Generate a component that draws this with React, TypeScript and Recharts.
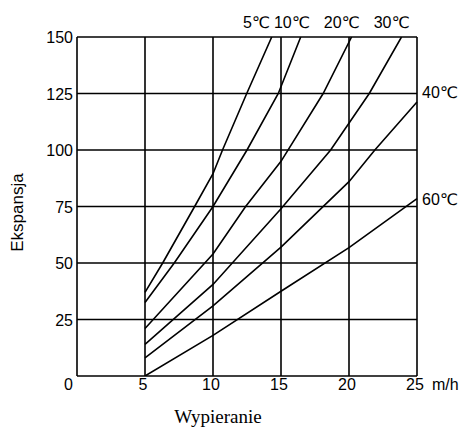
import { LineChart, Line, XAxis, YAxis, CartesianGrid, Label } from 'recharts';

const xTicks = [0, 5, 10, 15, 20, 25];
const yTicks = [0, 25, 50, 75, 100, 125, 150];

// (flow, expansion)
const t5 = [
  { x: 5, y: 37 }, { x: 6.3, y: 50 }, { x: 8.65, y: 75 }, { x: 10, y: 89.5 },
  { x: 10.7, y: 100 }, { x: 12.48, y: 125 }, { x: 14.32, y: 150 },
];
const t10 = [
  { x: 5, y: 32.5 }, { x: 7.15, y: 50 }, { x: 10, y: 75 }, { x: 12.5, y: 100 },
  { x: 14.8, y: 125 }, { x: 16.45, y: 150 },
];
const t20 = [
  { x: 5, y: 21 }, { x: 10, y: 54 }, { x: 12.4, y: 75 }, { x: 15, y: 95 },
  { x: 18.1, y: 125 }, { x: 20.19, y: 150 },
];
const t30 = [
  { x: 5, y: 14 }, { x: 10, y: 40.5 }, { x: 15, y: 74 }, { x: 18.65, y: 100 },
  { x: 21.49, y: 125 }, { x: 23.86, y: 150 },
];
const t40 = [
  { x: 5, y: 8 }, { x: 10, y: 31 }, { x: 15, y: 57 }, { x: 20, y: 86 },
  { x: 21.9, y: 100 }, { x: 25, y: 121.2 },
];
const t60 = [
  { x: 5, y: 0 }, { x: 10, y: 18 }, { x: 15, y: 37.5 }, { x: 20, y: 56.8 }, { x: 25, y: 78.5 },
];

const seriesNames = ['5℃', '10℃', '20℃', '30℃', '40℃', '60℃'];
const seriesData = [t5, t10, t20, t30, t40, t60];

// where each curve name sits relative to the curve's last point
const labelPlace = [
  { dx: -2, dy: -9, anchor: 'end' },
  { dx: 9, dy: -9, anchor: 'end' },
  { dx: 8, dy: -9, anchor: 'end' },
  { dx: 8, dy: -9, anchor: 'end' },
  { dx: 5, dy: -4, anchor: 'start' },
  { dx: 5, dy: 6, anchor: 'start' },
];

const SANS = '"Liberation Sans", Arial, "DejaVu Sans", sans-serif';
const SERIF = '"Liberation Serif", "Times New Roman", serif';

const YTick = ({ x, y, payload }: any) => (
  <text x={x} y={y + (payload.value === 0 ? 14 : 6)} textAnchor="end" fontSize={16} fontFamily={SANS} fill="#000">
    {payload.value}
  </text>
);

const XTick = ({ x, y, payload }: any) => {
  if (payload.value === 0) return null;
  return (
    <g>
      <text x={x - 2} y={y + 14} textAnchor="middle" fontSize={16} fontFamily={SANS} fill="#000">
        {payload.value}
      </text>
      {payload.value === 25 && (
        <text x={x + 15} y={y + 14} textAnchor="start" fontSize={16} fontFamily={SANS} fill="#000">
          m/h
        </text>
      )}
    </g>
  );
};

const endLabel = (i: number) => (props: any) => {
  const { x, y, index } = props;
  if (index !== seriesData[i].length - 1) return null;
  const p = labelPlace[i];
  return (
    <text key={i} x={x + p.dx} y={y + p.dy} textAnchor={p.anchor} fontSize={16} fontFamily={SANS} fill="#000">
      {seriesNames[i]}
    </text>
  );
};

export default function App() {
  return (
    <div style={{ position: 'absolute', left: 0, top: 0, width: 464, height: 429, background: '#fff' }}>
      <LineChart width={464} height={429} margin={{ top: 37, right: 47, bottom: 0, left: 47 }}>
        <CartesianGrid stroke="#000" strokeWidth={1.6} horizontalValues={yTicks} verticalValues={xTicks} />
        <XAxis
          type="number"
          dataKey="x"
          domain={[0, 25]}
          ticks={xTicks}
          axisLine={false}
          tickLine={false}
          tickSize={0}
          tickMargin={0}
          height={53}
          tick={<XTick />}
          interval={0}
        >
          <Label
            content={({ viewBox }: any) => (
              <text
                x={viewBox.x + viewBox.width / 2 - 29}
                y={viewBox.y + 47}
                textAnchor="middle"
                fontSize={19}
                fontFamily={SERIF}
                fill="#000"
              >
                Wypieranie
              </text>
            )}
          />
        </XAxis>
        <YAxis
          type="number"
          domain={[0, 150]}
          ticks={yTicks}
          allowDataOverflow
          axisLine={false}
          tickLine={false}
          tickSize={0}
          tickMargin={4}
          width={30}
          tick={<YTick />}
          interval={0}
        >
          <Label
            content={({ viewBox }: any) => {
              const cx = viewBox.x - 29.5;
              const cy = viewBox.y + viewBox.height / 2 + 6;
              return (
                <text
                  x={cx}
                  y={cy}
                  transform={`rotate(-90 ${cx} ${cy})`}
                  textAnchor="middle"
                  dominantBaseline="central"
                  fontSize={17}
                  fontFamily={SANS}
                  fill="#000"
                >
                  Ekspansja
                </text>
              );
            }}
          />
        </YAxis>
        {seriesData.map((d, i) => (
          <Line
            key={seriesNames[i]}
            data={d}
            dataKey="y"
            type="linear"
            stroke="#000"
            strokeWidth={1.6}
            dot={false}
            label={endLabel(i)}
            isAnimationActive={false}
          />
        ))}
      </LineChart>
    </div>
  );
}
